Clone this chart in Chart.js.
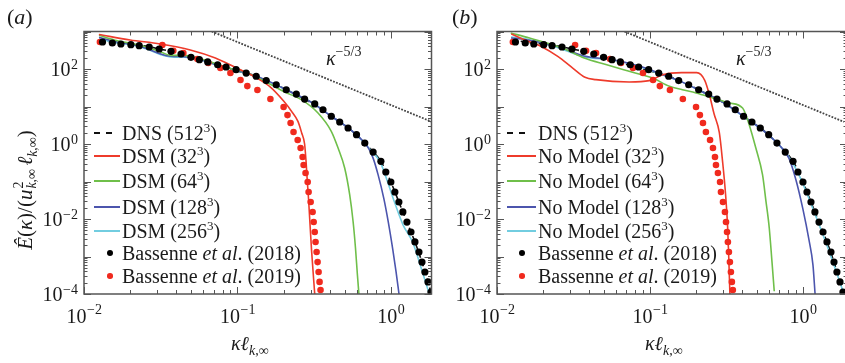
<!DOCTYPE html>
<html>
<head>
<meta charset="utf-8">
<script src="https://cdn.jsdelivr.net/npm/chart.js@4.4.1/dist/chart.umd.min.js"></script>
<style>
  body { margin: 0; width: 845px; height: 363px; overflow: hidden; background: #fff; position: relative;
         font-family: "Liberation Serif", "Tinos", "Times New Roman", "DejaVu Serif", serif; color: #1a1a1a; }
  canvas { position: absolute; top: 0; }
  .txt { position: absolute; white-space: nowrap; font-size: 20px; line-height: 20px; }
  .plab { position: absolute; font-size: 22px; line-height: 22px; top: 6px; }
  .leg { position: absolute; top: 0; }
  .row { position: absolute; left: 0; height: 24px; line-height: 24px; font-size: 20px; white-space: nowrap; }
  .row sup { font-size: 13px; vertical-align: 0; position: relative; top: -8px; }
  .smp { position: absolute; left: 0; top: 11px; height: 2px; }
  .dot { position: absolute; border-radius: 50%; }
  .kap sup { font-size: 14px; vertical-align: 0; position: relative; top: -9px; font-style: normal; }
  .xt sub { font-size: 14px; vertical-align: 0; position: relative; top: 5px; }
  #ytitle { position: absolute; left: -95px; top: 175px; width: 240px; height: 30px; line-height: 30px;
            text-align: center; font-size: 21px; transform: rotate(-90deg); white-space: nowrap; }
  #ytitle sub { font-size: 14px; vertical-align: 0; position: relative; top: 5px; }
  .ss { display: inline-block; position: relative; width: 24px; height: 1px; }
  .ss span { position: absolute; left: 1px; font-size: 14px; line-height: 14px; }
  .ss .sp { top: -19px; }
  .ss .sb { top: -6px; }
</style>
</head>
<body>
<canvas id="chartA" width="440" height="363" style="left:0"></canvas>
<canvas id="chartB" width="440" height="363" style="left:413px"></canvas>

<div class="plab" style="left:7px">(<i>a</i>)</div>
<div class="plab" style="left:452px">(<i>b</i>)</div>

<div id="ytitle"><i>Ê</i>(<i>κ</i>)/(<i>u</i><span class="ss"><span class="sp">2</span><span class="sb"><i>k</i>,∞</span></span><i>ℓ</i><sub><i>k</i>,∞</sub>)</div>

<div class="txt xt" style="left:231px;top:333px"><i>κℓ</i><sub><i>k</i>,∞</sub></div>
<div class="txt xt" style="left:645px;top:333px"><i>κℓ</i><sub><i>k</i>,∞</sub></div>

<div class="txt kap" style="left:326px;top:48px"><i>κ</i><sup>−5/3</sup></div>
<div class="txt kap" style="left:736px;top:48px"><i>κ</i><sup>−5/3</sup></div>

<div class="leg" id="legA" style="left:94px"></div>
<div class="leg" id="legB" style="left:507px"></div>

<script>
// wavenumber kℓ and normalised spectrum
const dnsX = [0.0125, 0.0165, 0.0212, 0.0259, 0.0317, 0.0368, 0.0451, 0.0551, 0.0673, 0.091, 0.1228, 0.166, 0.2245, 0.303, 0.409, 0.553, 0.711, 0.861, 1.0, 1.128, 1.273, 1.435, 1.595, 1.746, 1.84];
const dnsY = [600, 500, 450, 400, 335, 295, 235, 180, 140, 98, 70, 44, 24, 12.5, 5.5, 2.3, 0.85, 0.346, 0.097, 0.0284, 0.0083, 0.00244, 0.00071, 0.00021, 0.0001];

// Bassenne et al. (2018)
const b18X = [0.0132, 0.0153, 0.0174, 0.0202, 0.0229, 0.0266, 0.0309, 0.0369, 0.0429, 0.0498, 0.0565, 0.064, 0.0743, 0.0843, 0.098, 0.114, 0.1325, 0.154, 0.179, 0.208, 0.242, 0.274, 0.319, 0.361, 0.409, 0.464, 0.526, 0.597, 0.676, 0.766, 0.861, 0.927, 1.0, 1.062, 1.128, 1.197, 1.273, 1.352, 1.435, 1.524, 1.595, 1.667, 1.746, 1.825];
const b18Y = [525, 494, 464, 445, 418, 386, 341, 296, 251, 205, 177, 154, 130, 113, 96, 78, 64, 49, 38, 28, 21.5, 15.8, 11.7, 8.2, 5.5, 3.86, 2.67, 1.77, 1.06, 0.61, 0.346, 0.179, 0.097, 0.0525, 0.0284, 0.0154, 0.0083, 0.0045, 0.00244, 0.00132, 0.00071, 0.000386, 0.00021, 0.000113];

// Bassenne et al. (2019)
const b19X = [0.0127, 0.0324, 0.0382, 0.0444, 0.0548, 0.0646, 0.0774, 0.090, 0.1047, 0.116, 0.135, 0.164, 0.200, 0.212, 0.222, 0.232, 0.247, 0.258, 0.266, 0.270, 0.278, 0.287, 0.291, 0.300, 0.309, 0.314, 0.319, 0.323, 0.328, 0.333, 0.338, 0.343, 0.348];
const b19Y = [525, 437, 308, 267, 185, 145, 106, 78, 51, 35, 27.5, 15.8, 9.7, 5.9, 3.63, 2.09, 1.28, 0.78, 0.45, 0.275, 0.169, 0.097, 0.0525, 0.0284, 0.0154, 0.0083, 0.0045, 0.00244, 0.00132, 0.00071, 0.000386, 0.00021, 0.000128];

// panel (a): DSM
const dsm32X = [0.0125, 0.020, 0.0314, 0.0493, 0.0718, 0.097, 0.131, 0.164, 0.200, 0.225, 0.248, 0.262, 0.274, 0.280, 0.285, 0.291, 0.304, 0.319];
const dsm32Y = [830, 593, 464, 321, 196, 110, 60, 33, 14, 7.5, 4.0, 2.0, 1.0, 0.35, 0.11, 0.032, 0.0015, 0.0001];
const dsm64X = [0.01253, 0.01652, 0.0212, 0.0259, 0.0317, 0.0368, 0.0451, 0.0551, 0.0673, 0.091, 0.111, 0.136, 0.166, 0.203, 0.261, 0.335, 0.409, 0.453, 0.5, 0.539, 0.567, 0.588, 0.605, 0.619];
const dsm64Y = [790, 570, 464, 378, 284, 231, 231, 196, 154, 102, 87, 57.5, 38.2, 24.4, 15.2, 6.7, 2.18, 0.78, 0.229, 0.0446, 0.0087, 0.00169, 0.00033, 0.0001];
const dsm128X = [0.01253, 0.01652, 0.0212, 0.0259, 0.0317, 0.0368, 0.0451, 0.0551, 0.0673, 0.091, 0.1228, 0.166, 0.2245, 0.303, 0.409, 0.553, 0.711, 0.766, 0.826, 0.9, 0.961, 1.03, 1.08, 1.13];
const dsm128Y = [699, 525, 445, 348, 251, 218, 213, 189, 145, 102, 72, 44, 24, 13, 5.5, 2.3, 0.8, 0.42, 0.15, 0.035, 0.0085, 0.0015, 0.0004, 0.0001];
const dsm256X = [0.01253, 0.01652, 0.0212, 0.0259, 0.0317, 0.0368, 0.0451, 0.0551, 0.0673, 0.091, 0.1228, 0.166, 0.2245, 0.303, 0.409, 0.553, 0.711, 0.861, 0.95, 1.06, 1.2, 1.393, 1.57, 1.78];
const dsm256Y = [644, 494, 428, 334, 241, 209, 205, 185, 142, 100, 70, 43, 24, 13, 5.5, 2.3, 0.82, 0.3, 0.1, 0.027, 0.007, 0.0023, 0.00052, 0.0001];

// panel (b): no model
const nm32X = [0.0124, 0.0152, 0.0196, 0.0251, 0.0314, 0.0376, 0.0443, 0.0731, 0.099, 0.121, 0.161, 0.202, 0.228, 0.245, 0.262, 0.284, 0.298, 0.312, 0.322, 0.328, 0.333];
const nm32Y = [860, 593, 393, 213, 104, 60, 52, 45, 49, 70, 80, 80, 50, 20, 6.5, 2.0, 0.35, 0.045, 0.0057, 0.0007, 0.0001];
const nm64X = [0.0123, 0.0163, 0.0268, 0.0372, 0.0515, 0.0731, 0.104, 0.134, 0.163, 0.2, 0.257, 0.33, 0.403, 0.445, 0.492, 0.544, 0.573, 0.602, 0.627, 0.649];
const nm64Y = [912, 671, 363, 196, 131, 86.7, 57.5, 34.5, 28, 22.9, 16.9, 12.4, 9.1, 3.28, 0.78, 0.152, 0.0296, 0.00575, 0.00074, 0.000118];
const nm128X = [0.01236, 0.0155, 0.0243, 0.0371, 0.0573, 0.0847, 0.1216, 0.164, 0.222, 0.300, 0.405, 0.548, 0.697, 0.809, 0.90, 1.0, 1.094, 1.162, 1.2];
const nm128Y = [671, 604, 410, 222, 177, 120, 70.5, 44, 24, 13, 5.6, 2.3, 0.95, 0.42, 0.11, 0.018, 0.0028, 0.0006, 0.0001];
const nm256X = [0.01236, 0.0155, 0.0243, 0.0371, 0.0573, 0.0847, 0.1216, 0.164, 0.222, 0.300, 0.405, 0.548, 0.697, 0.809, 0.927, 1.047, 1.18, 1.33, 1.5, 1.667, 1.854];
const nm256Y = [713, 631, 386, 209, 174, 117, 69, 44, 24, 13, 5.5, 2.3, 0.95, 0.45, 0.17, 0.055, 0.016, 0.0045, 0.0012, 0.00035, 0.0001];

// -5/3 reference slope, end points
const slopeX = [0.068, 1.85];
const slopeY = [1000, 3.9];

const xTickVals = [0.01, 0.1, 1];
const xTickExp = ['−2', '−1', '0'];
const yTickVals = [1e-4, 1e-2, 1, 1e2];
const yTickExp = ['−4', '−2', '0', '2'];

const RED = '#ee3b2b', GREEN = '#6fbf4a', BLUE = '#4c55ad', CYAN = '#72cde0';
const SERIF = '"Liberation Serif", "Tinos", "Times New Roman", "DejaVu Serif", serif';

const pts = (xs, ys) => xs.map((x, i) => ({ x: x, y: ys[i] }));

function lineSet(xs, ys, color, extra) {
  return Object.assign({
    data: pts(xs, ys), borderColor: color, borderWidth: 1.6, pointRadius: 0,
    fill: false, cubicInterpolationMode: 'monotone', order: 2
  }, extra || {});
}

function dotSet(xs, ys, color, r, order) {
  return {
    data: pts(xs, ys), showLine: false, pointRadius: r, pointBackgroundColor: color,
    pointBorderWidth: 0, borderColor: color, order: order
  };
}

// box, inward ticks on all four sides, and the 10^n labels
const frameAxes = {
  id: 'frameAxes',
  afterDatasetsDraw(chart) {
    const { ctx, chartArea: a } = chart;
    const xs = chart.scales.x, ys = chart.scales.y;
    ctx.save();
    ctx.strokeStyle = '#555';
    ctx.lineWidth = 1;
    ctx.beginPath();
    for (let e = Math.floor(Math.log10(xs.min)); e <= Math.ceil(Math.log10(xs.max)); e++) {
      for (let m = 1; m < 10; m++) {
        const v = m * Math.pow(10, e);
        if (v < xs.min * 0.999 || v > xs.max) continue;
        const p = Math.round(xs.getPixelForValue(v)) + 0.5;
        const len = m === 1 ? 7 : 4;
        ctx.moveTo(p, a.bottom); ctx.lineTo(p, a.bottom - len);
        ctx.moveTo(p, a.top); ctx.lineTo(p, a.top + len);
      }
    }
    for (let e = Math.floor(Math.log10(ys.min)); e <= Math.ceil(Math.log10(ys.max)); e++) {
      for (let m = 1; m < 10; m++) {
        const v = m * Math.pow(10, e);
        if (v < ys.min * 0.999 || v > ys.max * 1.001) continue;
        const p = Math.round(ys.getPixelForValue(v)) + 0.5;
        const len = m === 1 ? 7 : 3.5;
        ctx.moveTo(a.left, p); ctx.lineTo(a.left + len, p);
        ctx.moveTo(a.right, p); ctx.lineTo(a.right - len, p);
      }
    }
    ctx.stroke();
    ctx.lineWidth = 1.5;
    ctx.strokeRect(a.left, a.top, a.right - a.left, a.bottom - a.top);

    ctx.fillStyle = '#1a1a1a';
    ctx.textBaseline = 'alphabetic';
    ctx.textAlign = 'left';
    const base = '20px ' + SERIF, sup = '14px ' + SERIF;
    xTickVals.forEach((v, i) => {
      ctx.font = base; const wb = ctx.measureText('10').width;
      ctx.font = sup; const we = ctx.measureText(xTickExp[i]).width;
      const x0 = xs.getPixelForValue(v) - (wb + we) / 2;
      ctx.font = base; ctx.fillText('10', x0, a.bottom + 29);
      ctx.font = sup; ctx.fillText(xTickExp[i], x0 + wb + 0.5, a.bottom + 20);
    });
    yTickVals.forEach((v, i) => {
      ctx.font = sup; const we = ctx.measureText(yTickExp[i]).width;
      ctx.font = base; const wb = ctx.measureText('10').width;
      const p = ys.getPixelForValue(v), xr = a.left - 6;
      ctx.fillText('10', xr - we - wb - 0.5, p + 6.5);
      ctx.font = sup; ctx.fillText(yTickExp[i], xr - we, p - 0.5);
    });
    ctx.restore();
  }
};

function makeChart(id, sets, xMax, padR) {
  return new Chart(document.getElementById(id), {
    type: 'line',
    data: { datasets: sets },
    options: {
      responsive: false, animation: false,
      layout: { padding: { left: 84, top: 31.5, right: padR, bottom: 69 } },
      scales: {
        x: { type: 'logarithmic', min: 0.01, max: xMax, display: false },
        y: { type: 'logarithmic', min: 1e-4, max: 1e3, display: false }
      },
      plugins: { legend: { display: false }, tooltip: { enabled: false } }
    },
    plugins: [frameAxes]
  });
}

function commonSets() {
  return [
    lineSet(slopeX, slopeY, '#444', { borderWidth: 1.8, borderDash: [1.8, 1.4], cubicInterpolationMode: 'default', order: 3 }),
    lineSet(dnsX, dnsY, '#111', { borderDash: [5, 4] }),
    dotSet(b19X, b19Y, '#f02a1e', 3.3, 1),
    dotSet(b18X, b18Y, '#000', 3.6, 0)
  ];
}

makeChart('chartA', [
  lineSet(dsm32X, dsm32Y, RED),
  lineSet(dsm64X, dsm64Y, GREEN),
  lineSet(dsm128X, dsm128Y, BLUE),
  lineSet(dsm256X, dsm256Y, CYAN)
].concat(commonSets()), 1.84, 8.5);

makeChart('chartB', [
  lineSet(nm32X, nm32Y, RED),
  lineSet(nm64X, nm64Y, GREEN),
  lineSet(nm128X, nm128Y, BLUE),
  lineSet(nm256X, nm256Y, CYAN)
].concat(commonSets()), 1.94, 6);

// legends
const rowY = [133, 156, 181, 207, 231, 253, 276];
function buildLegend(id, model, smpW, dotX) {
  const entries = [
    { kind: 'dash', color: '#111', html: 'DNS (512<sup>3</sup>)' },
    { kind: 'line', color: RED, html: model + ' (32<sup>3</sup>)' },
    { kind: 'line', color: GREEN, html: model + ' (64<sup>3</sup>)' },
    { kind: 'line', color: BLUE, html: model + ' (128<sup>3</sup>)' },
    { kind: 'line', color: CYAN, html: model + ' (256<sup>3</sup>)' },
    { kind: 'dot', color: '#000', r: 3.2, html: 'Bassenne <i>et al</i>. (2018)' },
    { kind: 'dot', color: '#f02a1e', r: 2.8, html: 'Bassenne <i>et al</i>. (2019)' }
  ];
  const box = document.getElementById(id);
  entries.forEach((e, i) => {
    const row = document.createElement('div');
    row.className = 'row';
    row.style.top = (rowY[i] - 12) + 'px';
    let mark;
    if (e.kind === 'dot') {
      mark = `<span class="dot" style="left:${dotX - e.r}px;top:${12 - e.r}px;width:${2 * e.r}px;height:${2 * e.r}px;background:${e.color}"></span>`;
    } else if (e.kind === 'dash') {
      mark = `<span class="smp" style="width:19px;background:repeating-linear-gradient(90deg,${e.color} 0 6px,transparent 6px 12px)"></span>`;
    } else {
      mark = `<span class="smp" style="width:${smpW}px;background:${e.color}"></span>`;
    }
    row.innerHTML = mark + `<span style="position:absolute;left:${smpW + 2}px">${e.html}</span>`;
    box.appendChild(row);
  });
}
buildLegend('legA', 'DSM', 26, 16);
buildLegend('legB', 'No Model', 29, 15);
</script>
</body>
</html>
